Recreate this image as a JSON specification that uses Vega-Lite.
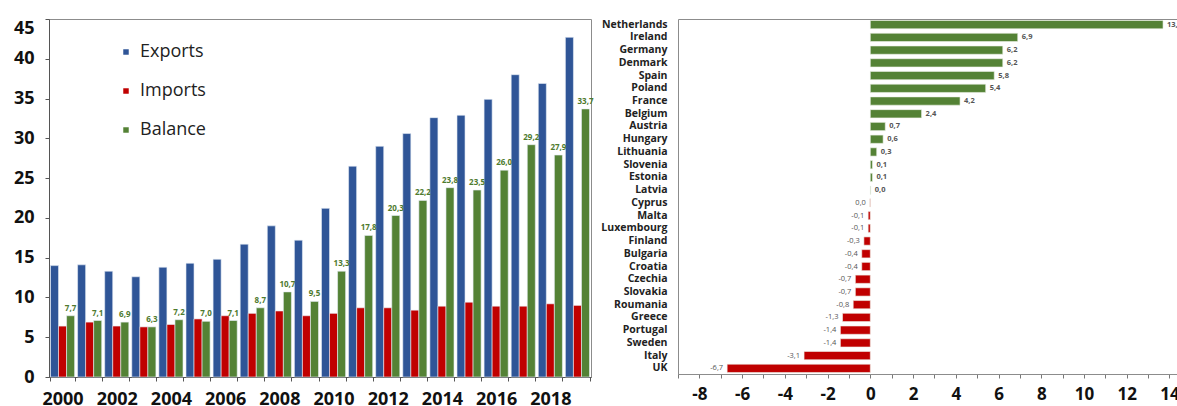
{
  "$schema": "https://vega.github.io/schema/vega-lite/v6.json",
  "padding": {"left": 12, "top": 18, "right": 0, "bottom": 0},
  "background": "white",
  "config": {
    "font": "Open Sans",
    "view": {"stroke": "#8c8c8c", "strokeWidth": 1},
    "locale": {"number": {"decimal": ",", "thousands": ".", "grouping": [3], "currency": ["", " €"], "minus": "-"}}
  },
  "bounds": "flush",
  "spacing": 87,
  "datasets": {
    "trade": [
      {"year": 2000, "series": "Exports", "value": 14.0}, {"year": 2000, "series": "Imports", "value": 6.4}, {"year": 2000, "series": "Balance", "value": 7.7},
      {"year": 2001, "series": "Exports", "value": 14.1}, {"year": 2001, "series": "Imports", "value": 6.9}, {"year": 2001, "series": "Balance", "value": 7.1},
      {"year": 2002, "series": "Exports", "value": 13.3}, {"year": 2002, "series": "Imports", "value": 6.4}, {"year": 2002, "series": "Balance", "value": 6.9},
      {"year": 2003, "series": "Exports", "value": 12.6}, {"year": 2003, "series": "Imports", "value": 6.3}, {"year": 2003, "series": "Balance", "value": 6.3},
      {"year": 2004, "series": "Exports", "value": 13.8}, {"year": 2004, "series": "Imports", "value": 6.6}, {"year": 2004, "series": "Balance", "value": 7.2},
      {"year": 2005, "series": "Exports", "value": 14.3}, {"year": 2005, "series": "Imports", "value": 7.3}, {"year": 2005, "series": "Balance", "value": 7.0},
      {"year": 2006, "series": "Exports", "value": 14.8}, {"year": 2006, "series": "Imports", "value": 7.7}, {"year": 2006, "series": "Balance", "value": 7.1},
      {"year": 2007, "series": "Exports", "value": 16.7}, {"year": 2007, "series": "Imports", "value": 8.0}, {"year": 2007, "series": "Balance", "value": 8.7},
      {"year": 2008, "series": "Exports", "value": 19.0}, {"year": 2008, "series": "Imports", "value": 8.3}, {"year": 2008, "series": "Balance", "value": 10.7},
      {"year": 2009, "series": "Exports", "value": 17.2}, {"year": 2009, "series": "Imports", "value": 7.7}, {"year": 2009, "series": "Balance", "value": 9.5},
      {"year": 2010, "series": "Exports", "value": 21.2}, {"year": 2010, "series": "Imports", "value": 8.0}, {"year": 2010, "series": "Balance", "value": 13.3},
      {"year": 2011, "series": "Exports", "value": 26.5}, {"year": 2011, "series": "Imports", "value": 8.7}, {"year": 2011, "series": "Balance", "value": 17.8},
      {"year": 2012, "series": "Exports", "value": 29.0}, {"year": 2012, "series": "Imports", "value": 8.7}, {"year": 2012, "series": "Balance", "value": 20.3},
      {"year": 2013, "series": "Exports", "value": 30.6}, {"year": 2013, "series": "Imports", "value": 8.4}, {"year": 2013, "series": "Balance", "value": 22.2},
      {"year": 2014, "series": "Exports", "value": 32.6}, {"year": 2014, "series": "Imports", "value": 8.9}, {"year": 2014, "series": "Balance", "value": 23.8},
      {"year": 2015, "series": "Exports", "value": 32.9}, {"year": 2015, "series": "Imports", "value": 9.4}, {"year": 2015, "series": "Balance", "value": 23.5},
      {"year": 2016, "series": "Exports", "value": 34.9}, {"year": 2016, "series": "Imports", "value": 8.9}, {"year": 2016, "series": "Balance", "value": 26.0},
      {"year": 2017, "series": "Exports", "value": 38.0}, {"year": 2017, "series": "Imports", "value": 8.9}, {"year": 2017, "series": "Balance", "value": 29.2},
      {"year": 2018, "series": "Exports", "value": 36.9}, {"year": 2018, "series": "Imports", "value": 9.2}, {"year": 2018, "series": "Balance", "value": 27.9},
      {"year": 2019, "series": "Exports", "value": 42.7}, {"year": 2019, "series": "Imports", "value": 9.0}, {"year": 2019, "series": "Balance", "value": 33.7}
    ],
    "countries": [
      {"country": "Netherlands", "value": 13.7},
      {"country": "Ireland", "value": 6.9},
      {"country": "Germany", "value": 6.2},
      {"country": "Denmark", "value": 6.2},
      {"country": "Spain", "value": 5.8},
      {"country": "Poland", "value": 5.4},
      {"country": "France", "value": 4.2},
      {"country": "Belgium", "value": 2.4},
      {"country": "Austria", "value": 0.7},
      {"country": "Hungary", "value": 0.6},
      {"country": "Lithuania", "value": 0.3},
      {"country": "Slovenia", "value": 0.1},
      {"country": "Estonia", "value": 0.1},
      {"country": "Latvia", "value": 0.02},
      {"country": "Cyprus", "value": -0.02},
      {"country": "Malta", "value": -0.1},
      {"country": "Luxembourg", "value": -0.1},
      {"country": "Finland", "value": -0.3},
      {"country": "Bulgaria", "value": -0.4},
      {"country": "Croatia", "value": -0.4},
      {"country": "Czechia", "value": -0.7},
      {"country": "Slovakia", "value": -0.7},
      {"country": "Roumania", "value": -0.8},
      {"country": "Greece", "value": -1.3},
      {"country": "Portugal", "value": -1.4},
      {"country": "Sweden", "value": -1.4},
      {"country": "Italy", "value": -3.1},
      {"country": "UK", "value": -6.7}
    ]
  },
  "hconcat": [
    {
      "width": 542,
      "height": 358,
      "data": {"name": "trade"},
      "encoding": {
        "x": {
          "field": "year", "type": "ordinal",
          "scale": {"paddingInner": 0.11, "paddingOuter": 0.055},
          "axis": {
            "title": null, "labelAngle": 0, "tickBand": "extent", "tickSize": 4, "tickColor": "#555",
            "domainColor": "#555", "labelFont": "Open Sans", "labelFontSize": 18, "labelFontWeight": "bold",
            "labelColor": "#111", "labelPadding": 9, "labelOverlap": false,
            "labelExpr": "datum.value % 2 == 0 ? datum.label : ''"
          }
        },
        "xOffset": {"field": "series", "sort": ["Exports", "Imports", "Balance"], "scale": {"paddingInner": 0, "paddingOuter": 0}},
        "y": {
          "field": "value", "type": "quantitative",
          "scale": {"domain": [0, 45], "nice": false},
          "axis": {
            "title": null, "grid": false, "values": [0, 5, 10, 15, 20, 25, 30, 35, 40, 45],
            "tickSize": 4, "tickColor": "#555", "domainColor": "#555",
            "labelFont": "Open Sans", "labelFontSize": 18, "labelFontWeight": "bold", "labelColor": "#111",
            "labelPadding": 11,
            "labelBaseline": {"condition": {"test": "datum.value == 45", "value": "top"}, "value": "middle"}
          }
        }
      },
      "layer": [
        {
          "mark": {"type": "bar", "stroke": "#e8eef6", "strokeWidth": 0.6},
          "encoding": {
            "color": {
              "field": "series", "type": "nominal",
              "scale": {"domain": ["Exports", "Imports", "Balance"], "range": ["#2F5597", "#C00000", "#548235"]},
              "legend": {
                "title": null, "orient": "none", "legendX": 68, "legendY": 24,
                "symbolType": "square", "symbolSize": 30, "symbolStrokeWidth": 0,
                "labelFont": "Open Sans", "labelFontSize": 18, "labelColor": "#222",
                "rowPadding": 21, "labelOffset": 5, "padding": 0
              }
            }
          }
        },
        {
          "transform": [{"filter": "datum.series == 'Balance'"}],
          "mark": {"type": "text", "baseline": "bottom", "dy": -3, "fontSize": 8, "fontWeight": "bold", "color": "#4E7A2E", "font": "Open Sans"},
          "encoding": {"text": {"field": "value", "type": "quantitative", "format": ".1f"}}
        }
      ]
    },
    {
      "width": 500,
      "height": 355,
      "data": {"name": "countries"},
      "encoding": {
        "y": {
          "field": "country", "type": "nominal", "sort": null,
          "scale": {"paddingInner": 0.35, "paddingOuter": 0.12},
          "axis": {
            "title": null, "ticks": false, "domain": false,
            "labelFont": "Open Sans", "labelFontSize": 10.5, "labelFontWeight": "bold", "labelColor": "#222",
            "labelPadding": 11
          }
        },
        "x": {
          "field": "value", "type": "quantitative",
          "scale": {"domain": [-9, 14.4], "nice": false, "zero": false},
          "axis": {
            "title": null, "grid": false,
            "values": [-9, -8, -7, -6, -5, -4, -3, -2, -1, 0, 1, 2, 3, 4, 5, 6, 7, 8, 9, 10, 11, 12, 13, 14],
            "labelExpr": "datum.value % 2 == 0 ? datum.label : ''",
            "tickSize": 4, "tickColor": "#777", "domainColor": "#8c8c8c",
            "labelFont": "Open Sans", "labelFontSize": 17, "labelFontWeight": "bold", "labelColor": "#111",
            "labelPadding": 8, "labelOverlap": false, "labelFlush": false
          }
        }
      },
      "layer": [
        {
          "mark": {"type": "bar", "stroke": "#eef2ea", "strokeWidth": 0.6},
          "encoding": {
            "color": {"condition": {"test": "datum.value >= 0", "value": "#548235"}, "value": "#C00000"}
          }
        },
        {
          "transform": [{"filter": "datum.value >= 0"}],
          "mark": {"type": "text", "align": "left", "dx": 4, "fontSize": 7.5, "fontWeight": "bold", "color": "#555", "font": "Open Sans"},
          "encoding": {"text": {"field": "value", "type": "quantitative", "format": ".1f"}}
        },
        {
          "transform": [{"filter": "datum.value < 0"}],
          "mark": {"type": "text", "align": "right", "dx": -4, "fontSize": 7.5, "color": "#555", "font": "Open Sans"},
          "encoding": {"text": {"field": "value", "type": "quantitative", "format": ".1f"}}
        }
      ]
    }
  ]
}
